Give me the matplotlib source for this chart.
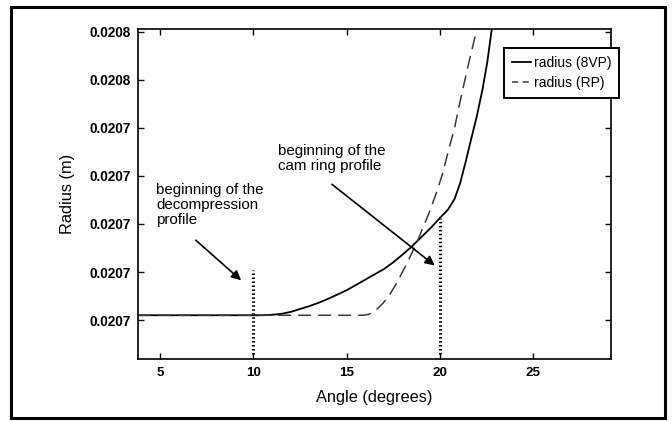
import matplotlib
matplotlib.use("Agg")
import matplotlib.pyplot as plt
from matplotlib.lines import Line2D
from matplotlib.patches import Rectangle

plt.rcParams['font.family'] = ['Liberation Sans', 'DejaVu Sans']

# Cam radius profiles (angle in degrees, radius in metres)
angle_8vp = [3.8, 10.5, 11.0, 11.5, 12.0, 12.5, 13.0, 13.5, 14.0, 14.5, 15.0,
             15.5, 16.0, 16.5, 17.0, 17.5, 18.0, 18.5, 19.0, 19.5, 20.1,
             20.45, 20.8, 21.1, 21.4, 21.7, 22.0, 22.3, 22.55, 22.8]
radius_8vp = [0.0207010, 0.0207010, 0.0207011, 0.0207013, 0.0207017, 0.0207023,
              0.0207029, 0.0207036, 0.0207044, 0.0207053, 0.0207062, 0.0207073,
              0.0207084, 0.0207095, 0.0207106, 0.0207120, 0.0207136, 0.0207153,
              0.0207172, 0.0207191, 0.0207216, 0.0207230, 0.0207252, 0.0207285,
              0.0207330, 0.0207378, 0.0207425, 0.0207480, 0.0207535, 0.0207606]

angle_rp = [3.8, 15.9, 16.2, 16.5, 16.96, 17.3, 17.68, 18.2, 18.6, 18.93,
            19.4, 19.82, 20.15, 20.48, 20.8, 21.07, 21.5, 22.0]
radius_rp = [0.0207010, 0.0207010, 0.0207012, 0.0207018, 0.0207035, 0.0207052,
             0.0207076, 0.0207115, 0.0207147, 0.0207176, 0.0207220, 0.0207264,
             0.0207304, 0.0207354, 0.0207400, 0.0207450, 0.0207525, 0.0207606]

series_labels = ['radius (8VP)', 'radius (RP)']

# Markers for the start of each profile
decomp_angle = 10.0
decomp_range = [0.0206930, 0.0207104]
camring_angle = 20.0
camring_range = [0.0206930, 0.0207212]

x_ticks = [5, 10, 15, 20, 25]
y_ticks = [0.02070, 0.02071, 0.02072, 0.02073, 0.02074, 0.02075, 0.02076]
y_tick_labels = ['0.0207', '0.0207', '0.0207', '0.0207', '0.0207', '0.0208', '0.0208']

fig = plt.figure(figsize=(6.72, 4.21), dpi=100)
ax = fig.add_axes([138 / 672, 1 - 359 / 421, (611 - 138) / 672, (359 - 29) / 421])

ax.plot(angle_8vp, radius_8vp, '-', color='black', lw=1.3)
ax.plot(angle_rp, radius_rp, color='#3a3a3a', lw=1.1, dashes=(8.5, 4.6))

dotted = (0, (0.5, 0.8))
ax.plot([decomp_angle, decomp_angle], decomp_range, color='black', lw=2.2, linestyle=dotted)
ax.plot([camring_angle, camring_angle], camring_range, color='black', lw=2.2, linestyle=dotted)

ax.set_xlim(3.8, 29.2)
ax.set_ylim(0.0206919, 0.02076056)
ax.set_xticks(x_ticks)
ax.set_yticks(y_ticks)
ax.set_yticklabels(y_tick_labels)

ax.tick_params(direction='in', length=4, width=1, top=True, right=True,
               labelsize=9.8, colors='black')
ax.tick_params(axis='x', pad=6, labelsize=9.6)
ax.tick_params(axis='y', pad=5)
for lbl in ax.get_xticklabels() + ax.get_yticklabels():
    lbl.set_fontweight('bold')
for sp in ax.spines.values():
    sp.set_linewidth(1.2)

ax.set_xlabel('Angle (degrees)', fontsize=11.8)
ax.set_ylabel('Radius (m)', fontsize=11.8)
ax.xaxis.set_label_coords(0.5, -0.118)
ax.xaxis.label.set_va('center')
ax.yaxis.set_label_coords(-0.150, 0.5)
ax.yaxis.label.set_va('center')

ax.text(4.79, 0.02072850, 'beginning of the\ndecompression\nprofile',
        ha='left', va='top', fontsize=10.9, linespacing=1.1)
ax.annotate('', xy=(9.45, 0.0207079), xytext=(6.79, 0.0207170),
            arrowprops=dict(arrowstyle='-|>', color='black', lw=1.2, mutation_scale=14))

ax.text(11.33, 0.02073670, 'beginning of the\ncam ring profile',
        ha='left', va='top', fontsize=10.9, linespacing=1.1)
ax.annotate('', xy=(19.85, 0.0207110), xytext=(14.1, 0.0207286),
            arrowprops=dict(arrowstyle='-|>', color='black', lw=1.2, mutation_scale=14))

# Legend keys: short samples of each line style
legend_keys = [Line2D([], [], color='black', lw=1.3),
               Line2D([], [], color='#3a3a3a', lw=1.1, dashes=(4, 3))]
leg = ax.legend(legend_keys, series_labels, loc='upper right',
                bbox_to_anchor=(1.017, 0.942), fontsize=10,
                handlelength=1.4, handletextpad=0.2, fancybox=False,
                edgecolor='black', framealpha=1, borderpad=0.55, labelspacing=0.45,
                borderaxespad=0)
leg.get_frame().set_linewidth(1.4)

# Outer frame around the whole figure
fig.patches.append(Rectangle((11 / 672, 1 - 418 / 421), (665 - 11) / 672, (418 - 7) / 421,
                             transform=fig.transFigure, fill=False,
                             edgecolor='black', lw=2.2))

fig.savefig('out.png', dpi=100)
